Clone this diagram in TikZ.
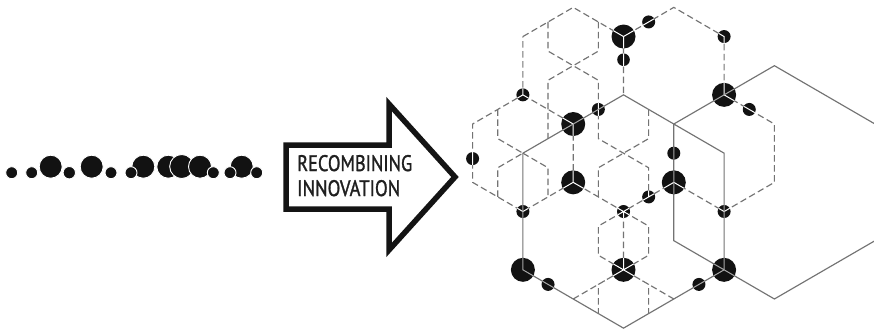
\documentclass[tikz,border=0pt]{standalone}
\usepackage{fontspec}
\setsansfont{PT Sans}
\newfontfamily\lblfont[FakeBold=1.5]{PT Sans}
\begin{document}
\begin{tikzpicture}[x=1pt,y=-1pt,
  dsh/.style={draw=black!55, line width=1.15pt, dash pattern=on 6.5pt off 3.5pt},
  sld/.style={draw=black!55, line width=1.15pt},
  blob/.style={fill=black!93},
  rowdot/.style={fill=black!93, draw=white, line width=0.9pt},
  lbl/.style={anchor=south west, inner sep=0pt, text=black!88}]
\useasboundingbox (0,0) rectangle (874,333);
\fill[white] (0,0) rectangle (874,333);
% row of dots
\foreach \x/\y/\r in {11.7/172.7/6, 31.7/172.7/6, 50.7/166.7/11.5, 69.3/172.7/6.2, 91.7/166.7/11.5, 111/172.7/6, 143.3/166.7/11.5, 131/172.7/6, 168.3/166.7/11.5, 181.7/166.5/12, 200/166.7/11.5, 213.3/172.7/6, 241.7/166.7/11.5, 230/172.7/6, 256.7/172.7/6}
  \filldraw[rowdot] (\x,\y) circle (\r pt);
% arrow
\draw[line width=5.5pt, line join=miter, draw=black!92, fill=white] (286,145) -- (389,145) -- (389,104) -- (455,177) -- (389,250) -- (389,209) -- (286,209) -- cycle;
\node[lbl] (t1) at (297,171.5) {\resizebox{115pt}{16pt}{\lblfont RECOMBINING}};
\node[lbl] (t2) at (297,196.5) {\resizebox{103pt}{16pt}{\lblfont INNOVATION}};
% hexagon lattice
\begin{scope}[shift={(623.5,211.5)}, x=25.15pt, y=-14.58pt]
\def\dpath{(-4,-12)--(-2,-14)--(0,-12)--(2,-14)--(4,-12)--(4,-8)--(6,-6)--(6,-2)--(4,0)--(2,-2)--(0,0)--(-2,-2)--(-4,0)--(-6,-2)--(-6,-6)--(-4,-8)--cycle
 (-4,-8)--(-2,-6) (0,-12)--(0,-8) (-2,-6)--(-2,-2) (0,0)--(0,4) (-2,6)--(0,4)--(2,6)
 (-3,-13)--(-3,-11)--(-1,-9)--(-1,-5)--(1,-3)--(1,-1)
 (-1,-13)--(-1,-11)--(-3,-9)--(-3,-5)
 (1,-7)--(1,-5)--(-1,-3)--(-1,-1)
 (-5,-7)--(-5,-5)--(-4,-4)--(-5,-3)--(-5,-1)
 (-4,-4)--(-3,-3)--(-3,-1)
 (0,0)--(-1,1)--(-1,3)--(0,4)--(1,5)--(1,7)
 (0,0)--(1,1)--(1,3)--(0,4)--(-1,5)--(-1,7)}
\def\spath{(0,-8)--(4,-4)--(4,4)--(0,8)--(-4,4)--(-4,-4)--cycle
 (2,-6)--(6,-10)--(10,-6)--(10,2)--(6,6)--(2,2)--cycle}
\def\cpath{(0,-12) circle (12pt) (4,-8) circle (12pt) (-2,-6) circle (12pt) (-2,-2) circle (12pt) (2,-2) circle (12pt) (-4,4) circle (12pt) (0,4) circle (12pt) (4,4) circle (12pt)
 (1,-13) circle (6.5pt) (4,-12) circle (6.5pt) (5,-7) circle (6.5pt) (-4,-8) circle (6.5pt) (-1,-7) circle (6.5pt) (2,-4) circle (6.5pt) (1,-1) circle (6.5pt) (0,0) circle (6.5pt) (-4,0) circle (6.5pt) (4,0) circle (6.5pt) (-3,5) circle (6.5pt) (3,5) circle (6.5pt) (0,-10.41) circle (6.3pt) (-6,-3.63) circle (6.5pt)}
\draw[dsh] \dpath;
\draw[sld] \spath;
\fill[blob] \cpath;
\begin{scope}
\clip \cpath;
\draw[white, line width=1pt] \dpath;
\draw[black!35, line width=1pt] \spath;
\end{scope}
\end{scope}
\end{tikzpicture}
\end{document}
